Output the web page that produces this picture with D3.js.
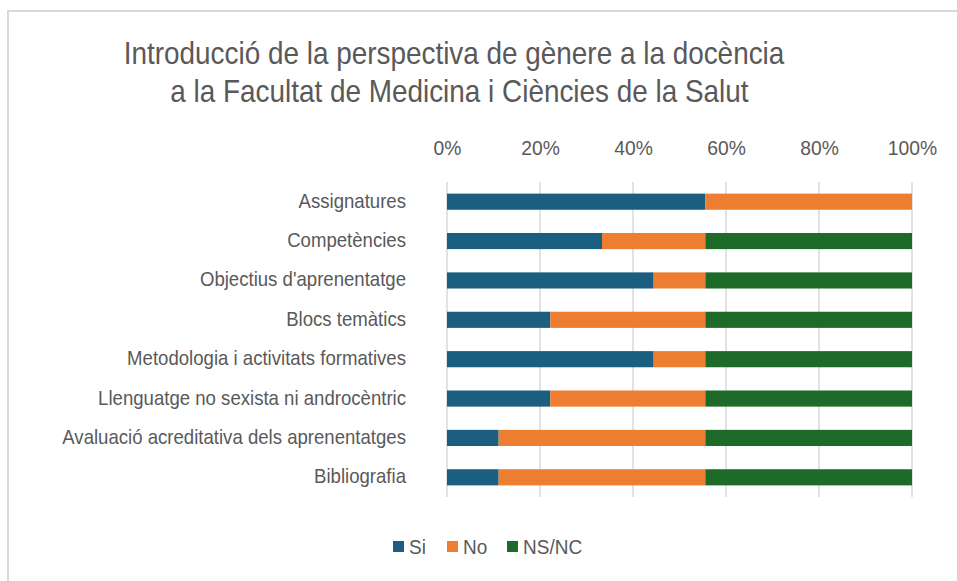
<!DOCTYPE html>
<html>
<head>
    <meta charset="utf-8">
    <title>Perspectiva de gènere</title>
    <script src="https://d3js.org/d3.v7.min.js"></script>
    <style>
        body { margin: 0; background: #fff; }
        svg { display: block; }
        text {
            font-family: "Liberation Sans", Arial, sans-serif;
            fill: #595959;
        }
        .grid line { stroke: #d9d9d9; stroke-width: 1.5px; }
    </style>
</head>
<body>
    <svg></svg>
    <script>
        // Dades (respostes, n = 9)
        const categories = [
            "Assignatures",
            "Competències",
            "Objectius d'aprenentatge",
            "Blocs temàtics",
            "Metodologia i activitats formatives",
            "Llenguatge no sexista ni androcèntric",
            "Avaluació acreditativa dels aprenentatges",
            "Bibliografia"
        ];
        const seriesNames = ["Si", "No", "NS/NC"];
        const siValues = [5, 3, 4, 2, 4, 2, 1, 1];
        const noValues = [4, 2, 1, 3, 1, 3, 4, 4];
        const nsncValues = [0, 4, 4, 4, 4, 4, 4, 4];
        const tickValues = [0, 0.2, 0.4, 0.6, 0.8, 1];
        const colors = ["#1b5e80", "#ed7d31", "#1e6b29"];

        const width = 957;
        const height = 581;
        const margin = { top: 182, right: 45, bottom: 84, left: 447 };
        const narrow = 0.9; // lletra estreta simulada

        const svg = d3.select("svg")
            .attr("width", width)
            .attr("height", height);

        // marc
        svg.append("path")
            .attr("d", `M8,${height} V11 H${width}`)
            .attr("fill", "none")
            .attr("stroke", "#d9d9d9")
            .attr("stroke-width", 2);

        // títol
        const title = svg.append("text")
            .attr("text-anchor", "middle")
            .attr("transform", `translate(454,0) scale(${narrow},1)`)
            .style("font-size", "31px");
        title.append("tspan").attr("x", 0).attr("y", 64)
            .text("Introducció de la perspectiva de gènere a la docència");
        title.append("tspan").attr("x", 6).attr("y", 102)
            .text("a la Facultat de Medicina i Ciències de la Salut");

        // apilar
        const rows = categories.map((c, i) => {
            const total = siValues[i] + noValues[i] + nsncValues[i];
            return { cat: c, "Si": siValues[i] / total, "No": noValues[i] / total, "NS/NC": nsncValues[i] / total };
        });
        const stacked = d3.stack().keys(seriesNames)(rows);

        const x = d3.scaleLinear()
            .domain([0, 1])
            .range([margin.left, width - margin.right]);

        const y = d3.scaleBand()
            .domain(categories)
            .range([margin.top, height - margin.bottom])
            .paddingInner(0.59)
            .paddingOuter(0.295);

        // graella
        svg.append("g")
            .attr("class", "grid")
            .selectAll("line")
            .data(tickValues)
            .join("line")
            .attr("x1", d => x(d))
            .attr("x2", d => x(d))
            .attr("y1", margin.top)
            .attr("y2", height - margin.bottom);

        // eix superior
        const xAxis = svg.append("g")
            .attr("transform", `translate(0,${margin.top - 24})`)
            .call(d3.axisTop(x).tickValues(tickValues).tickFormat(d3.format(".0%")).tickSize(0));
        xAxis.select(".domain").remove();
        xAxis.selectAll("text")
            .style("font-size", "21px")
            .attr("transform", "scale(0.92,1)")
            .attr("fill", "#595959");

        // eix categories
        const yAxis = svg.append("g")
            .attr("transform", `translate(${margin.left - 41},0)`)
            .call(d3.axisLeft(y).tickSize(0).tickPadding(0));
        yAxis.select(".domain").remove();
        yAxis.selectAll("text")
            .style("font-size", "20px")
            .attr("dy", "0.3em")
            .attr("transform", "scale(0.93,1)")
            .attr("fill", "#595959");

        // barres
        svg.append("g")
            .selectAll("g")
            .data(stacked)
            .join("g")
            .attr("fill", (d, i) => colors[i])
            .selectAll("rect")
            .data(d => d)
            .join("rect")
            .attr("x", d => x(d[0]))
            .attr("y", d => y(d.data.cat))
            .attr("width", d => x(d[1]) - x(d[0]))
            .attr("height", y.bandwidth());

        // llegenda
        const legendX = [393, 447, 507];
        const legend = svg.append("g")
            .selectAll("g")
            .data(seriesNames)
            .join("g")
            .attr("transform", (d, i) => `translate(${legendX[i]},541)`);
        legend.append("rect")
            .attr("width", 11)
            .attr("height", 11)
            .attr("fill", (d, i) => colors[i]);
        legend.append("text")
            .attr("transform", "translate(16,0) scale(0.95,1)")
            .attr("y", 12.5)
            .style("font-size", "20px")
            .text(d => d);
    </script>
</body>
</html>
